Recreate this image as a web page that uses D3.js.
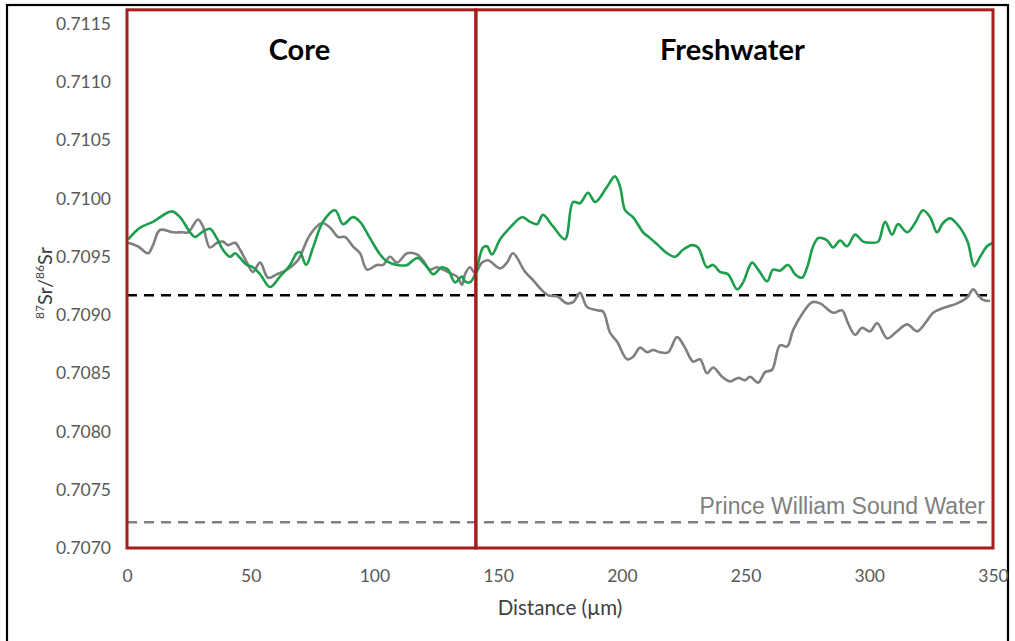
<!DOCTYPE html>
<html>
<head>
<meta charset="utf-8">
<script src="https://cdn.jsdelivr.net/npm/d3@7"></script>
<style>
  html, body { margin: 0; padding: 0; background: #fff; }
  svg { display: block; }
</style>
</head>
<body>
<svg id="chart" width="1015" height="641"></svg>
<script>
// Distance along transect (µm) and 87Sr/86Sr for the two profiles
const greenX = [0.5,5.3,10.5,18.1,21.4,25.5,27.5,30.2,33.5,36.3,38.8,41.6,43.7,45.7,48.4,50.9,53.8,57.8,61.8,65.9,68.6,69.9,72.4,75.2,79.2,84.1,87.3,91.3,94.2,98.2,102.3,105.1,109.1,113.2,115.6,117.6,121.3,123.7,127.3,129.7,132.6,135.4,136.6,138.6,140.7,143.9,145.5,147.5,150.8,154.8,159.7,162.9,165.7,168.1,172.2,177.0,180.3,183.1,186.3,189.2,194.0,197.2,199.3,201.3,204.5,208.6,211.4,214.6,218.3,221.5,224.7,228.4,230.8,234.4,236.9,239.7,242.9,246.6,249.0,252.6,255.1,258.7,261.1,263.9,267.2,270.0,272.8,274.9,277.3,279.3,281.0,283.0,285.4,288.2,291.0,294.3,297.5,301.1,303.6,306.4,309.2,311.6,315.3,318.5,321.7,324.6,327.4,329.8,332.7,335.5,337.9,339.9,342.4,344.8,347.6,350.0];
const greenY = [0.70965,0.70975,0.70980,0.70989,0.70984,0.70971,0.70967,0.70971,0.70974,0.70966,0.70956,0.70950,0.70953,0.70949,0.70943,0.70941,0.70935,0.70924,0.70933,0.70943,0.70953,0.70954,0.70943,0.70958,0.70980,0.70990,0.70978,0.70984,0.70980,0.70966,0.70952,0.70946,0.70943,0.70943,0.70947,0.70949,0.70941,0.70935,0.70941,0.70939,0.70928,0.70933,0.70929,0.70928,0.70935,0.70958,0.70959,0.70952,0.70965,0.70975,0.70984,0.70980,0.70978,0.70986,0.70976,0.70965,0.70997,0.70996,0.71005,0.70997,0.71010,0.71019,0.71010,0.70990,0.70984,0.70971,0.70966,0.70960,0.70953,0.70950,0.70956,0.70960,0.70958,0.70941,0.70943,0.70937,0.70935,0.70922,0.70928,0.70945,0.70939,0.70929,0.70939,0.70938,0.70943,0.70935,0.70932,0.70941,0.70959,0.70966,0.70966,0.70964,0.70958,0.70964,0.70959,0.70969,0.70963,0.70962,0.70963,0.70980,0.70969,0.70978,0.70971,0.70979,0.70990,0.70984,0.70971,0.70979,0.70983,0.70978,0.70971,0.70962,0.70942,0.70950,0.70959,0.70962];

const greyX = [0.4,4.4,8.5,10.5,13.3,18.6,22.2,24.7,28.7,30.7,33.5,36.4,38.8,40.8,43.7,45.7,48.5,50.9,53.8,57.0,60.6,64.7,68.7,69.9,74.0,78.8,82.1,85.3,88.1,91.3,94.2,97.0,101.0,103.5,106.3,109.1,113.2,117.2,119.6,122.5,125.3,127.7,130.6,133.4,135.4,136.6,138.6,140.7,143.5,145.9,150.8,153.6,156.0,160.9,164.1,166.9,170.2,173.8,177.8,180.3,183.1,185.9,190.0,192.4,195.2,198.1,202.1,204.5,207.4,210.2,212.6,215.4,218.7,222.3,225.5,228.8,231.6,234.4,236.9,240.5,243.7,247.0,249.8,251.8,255.1,257.9,260.7,263.9,266.8,269.2,273.2,276.9,280.1,285.4,289.0,291.4,294.3,297.1,300.3,303.2,307.2,311.2,315.3,319.3,322.6,325.8,329.8,335.5,339.5,342.0,344.0,346.0,348.8];
const greyY = [0.70962,0.70959,0.70953,0.70960,0.70973,0.70971,0.70971,0.70971,0.70982,0.70976,0.70958,0.70962,0.70963,0.70960,0.70962,0.70956,0.70945,0.70937,0.70945,0.70932,0.70935,0.70939,0.70946,0.70950,0.70969,0.70979,0.70975,0.70967,0.70967,0.70959,0.70953,0.70939,0.70943,0.70943,0.70950,0.70945,0.70953,0.70952,0.70947,0.70939,0.70941,0.70939,0.70936,0.70933,0.70926,0.70935,0.70941,0.70936,0.70945,0.70947,0.70940,0.70945,0.70953,0.70937,0.70930,0.70923,0.70917,0.70916,0.70910,0.70911,0.70919,0.70907,0.70904,0.70903,0.70885,0.70877,0.70862,0.70864,0.70872,0.70868,0.70870,0.70868,0.70868,0.70881,0.70872,0.70860,0.70862,0.70850,0.70855,0.70847,0.70843,0.70846,0.70844,0.70847,0.70842,0.70851,0.70853,0.70874,0.70873,0.70887,0.70902,0.70911,0.70910,0.70902,0.70904,0.70893,0.70883,0.70889,0.70886,0.70893,0.70880,0.70886,0.70892,0.70886,0.70893,0.70902,0.70906,0.70910,0.70915,0.70922,0.70917,0.70913,0.70912];

// Reference levels
const freshwaterLevel = 0.70917;
const pwsWaterLevel = 0.70722;

// Axis ticks
const xTicks = [0, 50, 100, 150, 200, 250, 300, 350];
const yTicks = [0.7070, 0.7075, 0.7080, 0.7085, 0.7090, 0.7095, 0.7100, 0.7105, 0.7110, 0.7115];

// Zones along the transect
const zoneNames = ["Core", "Freshwater"];
const zoneEdges = [0, 141, 350];
const zoneTop = 0.71162;

const svg = d3.select("#chart");
const labelFont = "Lato, 'Open Sans', sans-serif";

const x = d3.scaleLinear().domain([0, 350]).range([127, 993]);
const y = d3.scaleLinear().domain([0.7070, 0.7115]).range([548, 23.8]);

// outer frame
svg.append("rect")
  .attr("x", 7).attr("y", 5)
  .attr("width", 1001).attr("height", 660)
  .attr("fill", "none").attr("stroke", "#000").attr("stroke-width", 2.2);

// y tick labels
const yAxis = d3.axisLeft(y).tickValues(yTicks).tickFormat(d3.format(".4f")).tickSize(0).tickPadding(16);
const gy = svg.append("g").attr("transform", `translate(${x(0)},0)`).call(yAxis);
gy.select(".domain").remove();
gy.selectAll("text")
  .attr("font-family", labelFont)
  .attr("font-size", 17.5).attr("fill", "#595959");

// x tick labels
const xAxis = d3.axisBottom(x).tickValues(xTicks).tickFormat(d3.format("d")).tickSize(0).tickPadding(22);
const gx = svg.append("g").attr("transform", `translate(0,${y(0.7070)})`).call(xAxis);
gx.select(".domain").remove();
gx.selectAll("text")
  .attr("font-family", labelFont)
  .attr("font-size", 17.5).attr("fill", "#595959");

// axis titles
svg.append("text")
  .attr("x", 560).attr("y", 615)
  .attr("text-anchor", "middle")
  .attr("font-family", labelFont)
  .attr("font-size", 20.5).attr("fill", "#404040")
  .text("Distance (µm)");

const yTitle = svg.append("text")
  .attr("transform", "translate(52,283) rotate(-90)")
  .attr("text-anchor", "middle")
  .attr("font-family", labelFont)
  .attr("font-size", 20).attr("fill", "#404040");
yTitle.append("tspan").attr("font-size", 12).attr("dy", -8).text("87");
yTitle.append("tspan").attr("dy", 8).text("Sr/");
yTitle.append("tspan").attr("font-size", 12).attr("dy", -8).text("86");
yTitle.append("tspan").attr("dy", 8).text("Sr");

// reference lines
svg.append("line")
  .attr("x1", x(0)).attr("x2", x(350))
  .attr("y1", y(freshwaterLevel)).attr("y2", y(freshwaterLevel))
  .attr("stroke", "#000").attr("stroke-width", 2.5)
  .attr("stroke-dasharray", "10,7");

svg.append("line")
  .attr("x1", x(0)).attr("x2", x(350))
  .attr("y1", y(pwsWaterLevel)).attr("y2", y(pwsWaterLevel))
  .attr("stroke", "#808080").attr("stroke-width", 2.5)
  .attr("stroke-dasharray", "10,7");

svg.append("text")
  .attr("x", 985).attr("y", 514)
  .attr("text-anchor", "end")
  .attr("font-family", "'Liberation Sans', Arial, sans-serif")
  .attr("font-size", 23).attr("fill", "#808080")
  .text("Prince William Sound Water");

// profiles
const line = d3.line().x(d => x(d[0])).y(d => y(d[1])).curve(d3.curveCatmullRom.alpha(0.5));

svg.append("path")
  .datum(d3.zip(greyX, greyY))
  .attr("d", line)
  .attr("fill", "none").attr("stroke", "#7f7f7f").attr("stroke-width", 2.6)
  .attr("stroke-linejoin", "round");

svg.append("path")
  .datum(d3.zip(greenX, greenY))
  .attr("d", line)
  .attr("fill", "none").attr("stroke", "#1d9e4c").attr("stroke-width", 2.6)
  .attr("stroke-linejoin", "round");

// zone boxes and labels
const zones = zoneNames.map((name, i) => ({ name, x0: zoneEdges[i], x1: zoneEdges[i + 1] }));

svg.selectAll("rect.zone")
  .data(zones)
  .join("rect")
  .attr("class", "zone")
  .attr("x", d => x(d.x0)).attr("y", y(zoneTop))
  .attr("width", d => x(d.x1) - x(d.x0))
  .attr("height", y(0.7070) - y(zoneTop))
  .attr("fill", "none").attr("stroke", "#a51d1d").attr("stroke-width", 3);

svg.selectAll("text.zone")
  .data(zones)
  .join("text")
  .attr("class", "zone")
  .attr("x", d => (x(d.x0) + x(d.x1)) / 2 - 2)
  .attr("y", 60)
  .attr("text-anchor", "middle")
  .attr("font-family", labelFont)
  .attr("font-weight", "bold")
  .attr("font-size", 29).attr("fill", "#000")
  .text(d => d.name);
</script>
</body>
</html>
